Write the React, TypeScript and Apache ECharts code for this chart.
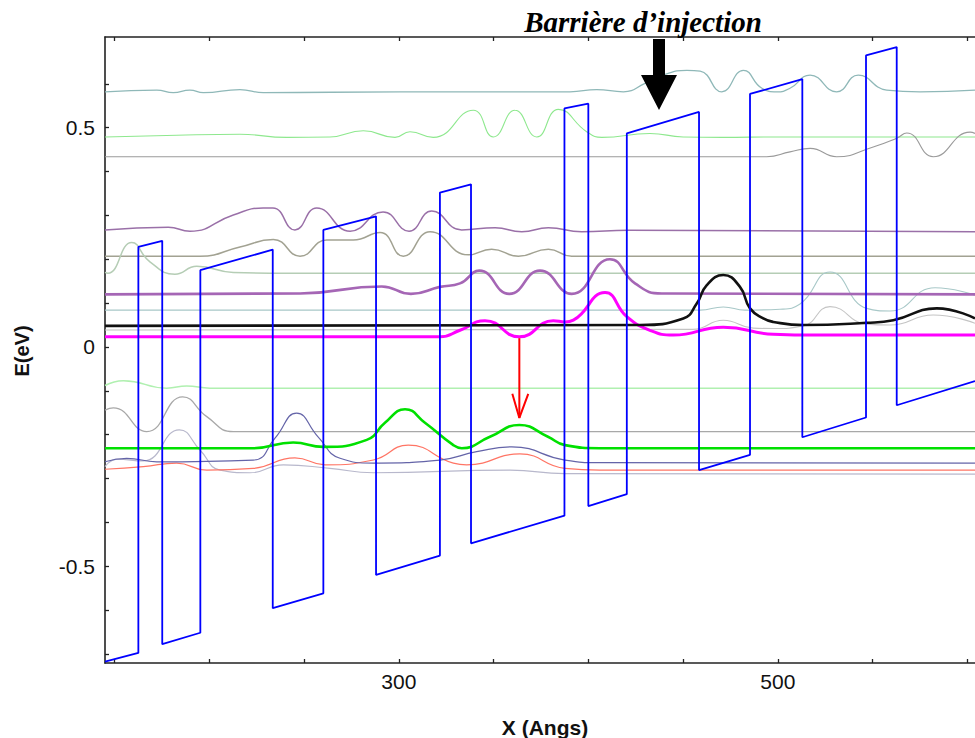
import React, { useEffect, useRef } from "react";
import * as echarts from "echarts";

// Axis ticks and labels
const xTicks = [150, 200, 250, 300, 350, 400, 450, 500, 550, 600];
const xLabels = [300, 500];
const yTicks = [-0.7, -0.6, -0.5, -0.4, -0.3, -0.2, -0.1, 0, 0.1, 0.2, 0.3, 0.4, 0.5, 0.6];
const yLabels = [-0.5, 0, 0.5];

// Conduction band profile (X in Angs, E in eV)
const potential = [
  [145, -0.718], [162.6, -0.698], [162.6, 0.228], [175.2, 0.242], [175.2, -0.678],
  [195.3, -0.652], [195.3, 0.175], [233.5, 0.222], [233.5, -0.596], [260.2, -0.562],
  [260.2, 0.267], [288.0, 0.298], [288.0, -0.52], [321.7, -0.476], [321.7, 0.352],
  [338.1, 0.371], [338.1, -0.448], [387.4, -0.385], [387.4, 0.544], [400.0, 0.555],
  [400.0, -0.363], [420.3, -0.336], [420.3, 0.487], [458.4, 0.536], [458.4, -0.281],
  [485.3, -0.246], [485.3, 0.577], [512.9, 0.611], [512.9, -0.206], [546.5, -0.161],
  [546.5, 0.665], [562.7, 0.684], [562.7, -0.133], [604, -0.078],
];

// Wavefunctions (moduli squared, offset by level energy)
const tealTop = [
  [145, 0.582], [172.3, 0.586], [181.0, 0.58], [189.8, 0.586], [196.9, 0.58], [216.2, 0.587],
  [228.5, 0.58], [300.6, 0.582], [390.3, 0.582], [404.4, 0.587], [418.5, 0.582], [429.9, 0.601],
  [440.5, 0.622], [451.9, 0.631], [459.0, 0.629], [470.4, 0.582], [481.8, 0.631], [491.6, 0.59],
  [499.4, 0.582], [506.4, 0.59], [517.0, 0.62], [531.0, 0.582], [542.4, 0.62], [557.4, 0.586],
  [575.0, 0.582], [604, 0.586],
];
const greenTop = [
  [145, 0.479], [182.8, 0.483], [216.2, 0.485], [240.9, 0.478], [263.7, 0.479], [281.3, 0.493],
  [298.0, 0.478], [305.9, 0.491], [318.2, 0.478], [339.3, 0.54], [349.9, 0.479], [361.3, 0.54],
  [372.8, 0.479], [384.2, 0.542], [399.1, 0.491], [407.1, 0.478], [432.5, 0.487], [450, 0.479],
  [470.4, 0.478], [500, 0.479], [604, 0.479],
];
const grayTop = [
  [145, 0.434], [494.1, 0.434], [506.4, 0.445], [517, 0.453], [531, 0.434], [550.3, 0.456],
  [562.7, 0.476], [568, 0.488], [582, 0.434], [601.4, 0.49], [604, 0.487],
];
const purpleUpper = [
  [145, 0.267], [178.4, 0.273], [189.8, 0.264], [212.7, 0.301], [228.4, 0.317], [233.6, 0.317],
  [245.2, 0.267], [256.7, 0.317], [274.3, 0.264], [291.7, 0.308], [305.4, 0.264], [317.4, 0.31],
  [333.2, 0.267], [350.8, 0.272], [364.9, 0.263], [378.9, 0.272], [396.5, 0.263], [421.1, 0.266],
  [604, 0.263],
];
const oliveGray = [
  [145, 0.207], [195.1, 0.207], [216.2, 0.228], [233.8, 0.245], [247.9, 0.207], [262, 0.244],
  [276, 0.244], [290.1, 0.261], [302.4, 0.207], [316.5, 0.263], [336.7, 0.21], [349, 0.223],
  [363.1, 0.207], [378.9, 0.223], [391.2, 0.207], [604, 0.207],
];
const paleGreen = [
  [145, 0.17], [146.5, 0.168], [159.1, 0.238], [168.7, 0.194], [181.9, 0.166], [193.4, 0.184],
  [212.7, 0.17], [240, 0.168], [604, 0.168],
];
const purpleThick = [
  [145, 0.12], [247.9, 0.122], [291, 0.138], [306.4, 0.121], [321.7, 0.137], [332.3, 0.145],
  [342.5, 0.174], [358.3, 0.121], [374.5, 0.174], [391.2, 0.121], [411.4, 0.2], [424.6, 0.145],
  [438.7, 0.122], [604, 0.12],
];
const tealLow = [
  [145, 0.084], [458.9, 0.084], [471.2, 0.091], [482.7, 0.084], [501.1, 0.086], [511.7, 0.098],
  [527.5, 0.171], [546.9, 0.088], [559.2, 0.082], [582.9, 0.135], [604, 0.118],
];
const blackUpper = [
  [145, 0.048], [427, 0.05], [450.1, 0.065], [457.2, 0.099], [462.5, 0.141], [471.2, 0.164],
  [480, 0.137], [485.3, 0.088], [492.3, 0.065], [497.6, 0.057], [513.4, 0.05], [546.9, 0.055],
  [560.9, 0.061], [583.8, 0.088], [604, 0.065],
];
const lightGray = [
  [145, 0.0385], [455, 0.04], [471.2, 0.061], [487, 0.043], [497.6, 0.042], [513.4, 0.048],
  [527.5, 0.092], [546.9, 0.052], [559.2, 0.05], [582, 0.073], [604, 0.054],
];
const magentaUpper = [
  [145, 0.023], [321.7, 0.023], [332.3, 0.038], [345.5, 0.06], [363.6, 0.023], [381.5, 0.06],
  [387.7, 0.057], [392.1, 0.061], [408.8, 0.124], [420.3, 0.069], [432.5, 0.038], [444.8, 0.027],
  [471.2, 0.045], [497.6, 0.029], [520, 0.027], [604, 0.027],
];
const lightGreenLow = [
  [145, -0.088], [154.7, -0.077], [177.6, -0.094], [188.1, -0.089], [200.4, -0.094], [604, -0.094],
];
const grayLow = [
  [145, -0.144], [149.4, -0.139], [167, -0.193], [186, -0.114], [198.7, -0.159], [212.7, -0.193],
  [604, -0.193],
];
const greenLower = [
  [145, -0.231], [223.1, -0.231], [244.3, -0.218], [260.2, -0.228], [283.1, -0.212], [292.7, -0.173],
  [303.3, -0.142], [313.8, -0.173], [328.8, -0.224], [333.2, -0.231], [348.1, -0.205],
  [363.6, -0.178], [378.7, -0.205], [387.7, -0.224], [406.2, -0.231], [604, -0.231],
];
const navyLow = [
  [145, -0.262], [156.4, -0.254], [172.3, -0.262], [223.2, -0.258], [234.7, -0.208], [246.1, -0.151],
  [257.4, -0.205], [269, -0.254], [286.6, -0.265], [321.7, -0.258], [341.1, -0.239], [359.6, -0.228],
  [387.7, -0.258], [406, -0.264], [604, -0.265],
];
const redLow = [
  [145, -0.279], [165.2, -0.273], [182.8, -0.265], [198.7, -0.281], [223.2, -0.277], [245.2, -0.253],
  [261.1, -0.269], [286.6, -0.258], [305, -0.224], [328.8, -0.265], [335.8, -0.269], [363.9, -0.244],
  [387.7, -0.277], [406, -0.281], [604, -0.281],
];
const lavenderLow = [
  [145, -0.273], [151.2, -0.256], [165.2, -0.26], [184.2, -0.189], [195.1, -0.235], [205.7, -0.281],
  [221.5, -0.287], [239.1, -0.269], [263.7, -0.277], [286.6, -0.287], [358.7, -0.281], [387.7, -0.289],
  [604, -0.29],
];

// Laser transition arrow (red)
const redArrowShaft = [[363.6, 0.02], [363.6, -0.162]];
const redArrowHead = [[359.9, -0.107], [363.6, -0.162], [368.3, -0.107]];

const curveStyles = [
  { data: tealTop, color: "#8fb8b8", width: 1.3 },
  { data: greenTop, color: "#8ee88e", width: 1.1 },
  { data: grayTop, color: "#9a9a9a", width: 1.1 },
  { data: purpleUpper, color: "#9a70a8", width: 1.5 },
  { data: oliveGray, color: "#a2a292", width: 1.5 },
  { data: paleGreen, color: "#b5cdb5", width: 1.5 },
  { data: tealLow, color: "#a8c8c8", width: 1.1 },
  { data: lightGray, color: "#c4c4c4", width: 1.1 },
  { data: lightGreenLow, color: "#b0f0b0", width: 1.5 },
  { data: grayLow, color: "#a8a8a8", width: 1.3 },
  { data: lavenderLow, color: "#b8b8cc", width: 1.2 },
  { data: redLow, color: "#ff7565", width: 1.2 },
  { data: navyLow, color: "#6464a8", width: 1.2 },
  { data: purpleThick, color: "#a566b5", width: 2.6 },
  { data: greenLower, color: "#00e000", width: 2.6 },
  { data: magentaUpper, color: "#ff00ff", width: 3 },
  { data: blackUpper, color: "#111111", width: 2.6 },
];

export default function App() {
  const ref = useRef<HTMLDivElement>(null);
  useEffect(() => {
    if (!ref.current) return;
    const chart = echarts.init(ref.current, undefined, { renderer: "svg" });
    const axisLineStyle = { color: "#222", width: 1.6 };
    const tickStyle = { color: "#222", width: 1.3 };
    const labelFont = { fontSize: 21, fontFamily: "Liberation Sans, Arial, sans-serif", color: "#111" };
    const series: any[] = curveStyles.map((c) => ({
      type: "line",
      data: c.data,
      smooth: 0.5,
      symbol: "none",
      showSymbol: false,
      silent: true,
      lineStyle: { color: c.color, width: c.width },
      z: 2,
    }));
    series.push({
      type: "line",
      data: potential,
      symbol: "none",
      silent: true,
      lineStyle: { color: "#0000ff", width: 1.8 },
      z: 3,
    });
    series.push({
      type: "line",
      data: redArrowShaft,
      symbol: "none",
      silent: true,
      lineStyle: { color: "#ff0000", width: 2 },
      z: 4,
    });
    series.push({
      type: "line",
      data: redArrowHead,
      symbol: "none",
      silent: true,
      lineStyle: { color: "#ff0000", width: 2 },
      z: 4,
    });
    chart.setOption({
      animation: false,
      backgroundColor: "#ffffff",
      grid: { left: 105, right: 0, top: 37, bottom: 75, outerBoundsMode: "none" } as any,
      xAxis: [
        {
          type: "value",
          min: 145,
          max: 604,
          position: "bottom",
          axisLine: { show: true, onZero: false, lineStyle: axisLineStyle },
          axisTick: { show: true, inside: true, length: 4, customValues: xTicks, lineStyle: tickStyle },
          axisLabel: { show: true, customValues: xLabels, margin: 8, ...labelFont },
          splitLine: { show: false },
        },
        {
          type: "value",
          min: 145,
          max: 604,
          position: "top",
          axisLine: { show: true, onZero: false, lineStyle: axisLineStyle },
          axisTick: { show: true, inside: true, length: 4, customValues: xTicks, lineStyle: tickStyle },
          axisLabel: { show: false },
          splitLine: { show: false },
        },
      ],
      yAxis: {
        type: "value",
        min: -0.721,
        max: 0.707,
        axisLine: { show: true, onZero: false, lineStyle: axisLineStyle },
        axisTick: { show: true, inside: true, length: 4, customValues: yTicks, lineStyle: tickStyle },
        axisLabel: {
          show: true,
          customValues: yLabels,
          margin: 10,
          formatter: (v: number) => String(Math.round(v * 10) / 10),
          ...labelFont,
        },
        splitLine: { show: false },
      },
      graphic: [
        {
          type: "text",
          x: 643,
          y: 22,
          z: 10,
          style: {
            text: "Barrière d’injection",
            font: 'italic bold 29px "Liberation Serif", "Times New Roman", serif',
            fill: "#000",
            textAlign: "center",
            textVerticalAlign: "middle",
          },
        },
        {
          type: "polygon",
          z: 10,
          shape: {
            points: [[653, 39], [665, 39], [665, 75], [677, 75], [659, 110], [641, 75], [653, 75]],
          },
          style: { fill: "#000" },
        },
        {
          type: "text",
          x: 22,
          y: 351,
          rotation: Math.PI / 2,
          z: 10,
          style: {
            text: "E(eV)",
            font: 'bold 20px "Liberation Sans", Arial, sans-serif',
            fill: "#111",
            textAlign: "center",
            textVerticalAlign: "middle",
          },
        },
        {
          type: "text",
          x: 545,
          y: 727,
          z: 10,
          style: {
            text: "X (Angs)",
            font: 'bold 21px "Liberation Sans", Arial, sans-serif',
            fill: "#111",
            textAlign: "center",
            textVerticalAlign: "middle",
          },
        },
      ],
      series,
    });
    return () => chart.dispose();
  }, []);
  return (
    <div
      ref={ref}
      style={{ position: "fixed", left: 0, top: 0, width: 975, height: 738, background: "#fff" }}
    />
  );
}
